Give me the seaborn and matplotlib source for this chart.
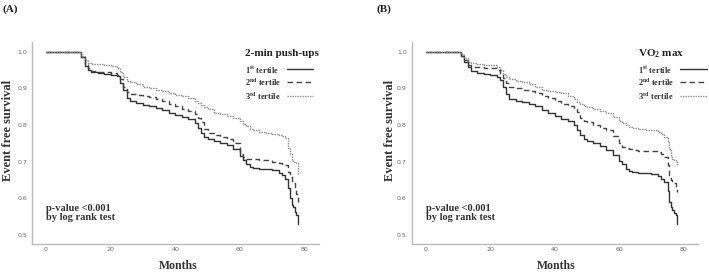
"""Kaplan-Meier curves by tertile — push-ups and VO2 max"""

import numpy as np
import pandas as pd
import matplotlib
matplotlib.use('Agg')
import matplotlib.pyplot as plt
import seaborn as sns
from matplotlib.lines import Line2D

sns.set_theme(style='white')
plt.rcParams['font.family'] = ['Liberation Serif', 'DejaVu Serif']
plt.rcParams['mathtext.fontset'] = 'custom'
plt.rcParams['mathtext.rm'] = 'Liberation Serif:bold'
plt.rcParams['mathtext.bf'] = 'Liberation Serif:bold'

# 时间点 (月)
months = [0, 9, 11, 12, 13, 14, 16, 18, 20, 22, 23, 24, 25, 26, 28, 30, 32, 34, 36, 38,
          40, 42, 44, 46, 47, 48, 49, 50, 52, 54, 56, 58, 60, 61, 62, 63, 64, 66, 68, 70,
          72, 73, 74, 75, 75.5, 76, 76.5, 77, 77.5, 78]

# (A) 2-min push-ups
pushup_t1 = [1.0, 1.0, 0.985, 0.962, 0.950, 0.944, 0.941, 0.939, 0.936, 0.933, 0.915, 0.896,
             0.875, 0.866, 0.860, 0.856, 0.852, 0.846, 0.840, 0.834, 0.828, 0.823, 0.816, 0.806,
             0.792, 0.778, 0.768, 0.763, 0.757, 0.751, 0.744, 0.733, 0.715, 0.705, 0.694, 0.684,
             0.681, 0.680, 0.679, 0.676, 0.670, 0.664, 0.652, 0.628, 0.600, 0.581, 0.575, 0.562,
             0.555, 0.530]
pushup_t2 = [1.0, 1.0, 0.987, 0.968, 0.955, 0.948, 0.946, 0.944, 0.942, 0.938, 0.925, 0.905,
             0.890, 0.886, 0.883, 0.880, 0.877, 0.871, 0.865, 0.858, 0.851, 0.845, 0.838, 0.829,
             0.820, 0.808, 0.790, 0.778, 0.773, 0.768, 0.762, 0.752, 0.722, 0.712, 0.708, 0.707,
             0.706, 0.705, 0.703, 0.700, 0.697, 0.694, 0.690, 0.672, 0.658, 0.648, 0.640, 0.627,
             0.610, 0.590]
pushup_t3 = [1.0, 1.0, 0.990, 0.978, 0.970, 0.968, 0.966, 0.964, 0.961, 0.955, 0.945, 0.930,
             0.921, 0.917, 0.911, 0.905, 0.900, 0.896, 0.892, 0.888, 0.883, 0.879, 0.873, 0.866,
             0.861, 0.855, 0.849, 0.843, 0.834, 0.829, 0.824, 0.818, 0.810, 0.804, 0.797, 0.790,
             0.786, 0.781, 0.777, 0.775, 0.773, 0.769, 0.764, 0.737, 0.720, 0.704, 0.700, 0.698,
             0.696, 0.663]

# (B) VO2 max
vo2_t1 = [1.0, 1.0, 0.990, 0.973, 0.958, 0.948, 0.942, 0.940, 0.937, 0.930, 0.923, 0.905,
          0.885, 0.872, 0.866, 0.862, 0.858, 0.851, 0.840, 0.832, 0.824, 0.817, 0.811, 0.800,
          0.786, 0.772, 0.762, 0.757, 0.750, 0.742, 0.732, 0.718, 0.702, 0.692, 0.680, 0.674,
          0.671, 0.669, 0.668, 0.665, 0.660, 0.653, 0.643, 0.620, 0.590, 0.576, 0.567, 0.560,
          0.553, 0.530]
vo2_t2 = [1.0, 1.0, 0.990, 0.978, 0.965, 0.960, 0.958, 0.957, 0.955, 0.950, 0.940, 0.928,
          0.915, 0.905, 0.900, 0.896, 0.892, 0.888, 0.880, 0.873, 0.865, 0.858, 0.852, 0.845,
          0.835, 0.820, 0.812, 0.808, 0.800, 0.793, 0.786, 0.770, 0.752, 0.741, 0.736, 0.733,
          0.731, 0.730, 0.729, 0.728, 0.727, 0.722, 0.713, 0.690, 0.655, 0.649, 0.645, 0.640,
          0.630, 0.617]
vo2_t3 = [1.0, 1.0, 0.993, 0.982, 0.972, 0.969, 0.967, 0.965, 0.963, 0.958, 0.950, 0.940,
          0.930, 0.925, 0.921, 0.918, 0.912, 0.905, 0.897, 0.893, 0.890, 0.887, 0.880, 0.870,
          0.863, 0.857, 0.852, 0.848, 0.843, 0.838, 0.832, 0.822, 0.812, 0.806, 0.800, 0.795,
          0.792, 0.790, 0.787, 0.785, 0.782, 0.776, 0.768, 0.755, 0.735, 0.713, 0.708, 0.704,
          0.700, 0.690]

tertile_labels = [r'1$^{\mathrm{st}}$ tertile', r'2$^{\mathrm{nd}}$ tertile', r'3$^{\mathrm{rd}}$ tertile']
x_ticks = [0, 20, 40, 60, 80]
y_ticks = [0.5, 0.6, 0.7, 0.8, 0.9, 1.0]

# 线型: 实线 / 虚线 / 点线
line_styles = [dict(color='#333333', linestyle='-', linewidth=1.0),
               dict(color='#444444', linestyle=(0, (4, 2.5)), linewidth=1.0),
               dict(color='#8a8a8a', linestyle=(0, (1, 0.8)), linewidth=1.0)]

# 图例行的纵向位置 (axes 坐标)
legend_rows = [0.866, 0.802, 0.733]


def draw_legend(ax, title, x_text, x_h0, x_h1):
    """手工图例：文字左对齐，线段右侧对齐"""
    ax.text(x_text, 0.944, title, transform=ax.transAxes, fontsize=8, fontweight='bold',
            color='#222222', va='center', ha='left')
    for lab, st, yy in zip(tertile_labels, line_styles, legend_rows):
        ax.text(x_text, yy, lab, transform=ax.transAxes, fontsize=6, fontweight='bold',
                color='#333333', va='center', ha='left')
        ax.add_line(Line2D([x_h0, x_h1], [yy, yy], transform=ax.transAxes,
                           clip_on=False, **st))


def draw_panel(ax, series, tag, tag_x, ylab_x, xlab_x):
    for vals, st in zip(series, line_styles):
        df = pd.DataFrame({'months': months, 'survival': vals})
        sns.lineplot(data=df, x='months', y='survival', ax=ax, drawstyle='steps-post',
                     estimator=None, **st)

    ax.set_xlim(-4.3, 84.5)
    ax.set_ylim(0.475, 1.027)
    ax.set_xticks(x_ticks)
    ax.set_yticks(y_ticks)
    ax.set_yticklabels([f'{v:.1f}' for v in y_ticks])
    ax.tick_params(axis='both', length=0, labelsize=4.5, labelcolor='#666666')
    ax.tick_params(axis='y', pad=3.5)
    ax.tick_params(axis='x', pad=2.5)
    for lab in ax.get_xticklabels() + ax.get_yticklabels():
        lab.set_family('DejaVu Sans')
    for side in ['top', 'right']:
        ax.spines[side].set_visible(False)
    for side in ['left', 'bottom']:
        ax.spines[side].set_color('#bbbbbb')
        ax.spines[side].set_linewidth(1.0)

    ax.set_xlabel('Months', fontsize=8.5, fontweight='bold', color='#333333')
    ax.set_ylabel('Event free survival', fontsize=9, fontweight='bold', color='#333333')
    ax.xaxis.set_label_coords(xlab_x, -0.08)
    ax.yaxis.set_label_coords(ylab_x, 0.564)

    ax.text(0, 0.585, 'p-value <0.001\nby log rank test', fontsize=7.5, fontweight='bold',
            color='#333333', va='top', ha='left', linespacing=1.1)
    ax.figure.text(tag_x, 0.968, tag, fontsize=8, fontweight='bold', color='#222222',
                   va='center')


fig = plt.figure(figsize=(7.09, 2.73), dpi=100)
ax_a = fig.add_axes([0.0451, 0.107, 0.405, 0.739])
ax_b = fig.add_axes([0.5807, 0.107, 0.404, 0.739])

draw_panel(ax_a, [pushup_t1, pushup_t2, pushup_t3], '(A)', 0.003, ylab_x=-0.063, xlab_x=0.509)
draw_legend(ax_a, '2-min push-ups', 0.742, 0.889, 0.979)

draw_panel(ax_b, [vo2_t1, vo2_t2, vo2_t3], '(B)', 0.531, ylab_x=-0.055, xlab_x=0.504)
draw_legend(ax_b, r'VO$_{2}$ max', 0.790, 0.937, 1.031)

fig.savefig('out.png', dpi=100)
